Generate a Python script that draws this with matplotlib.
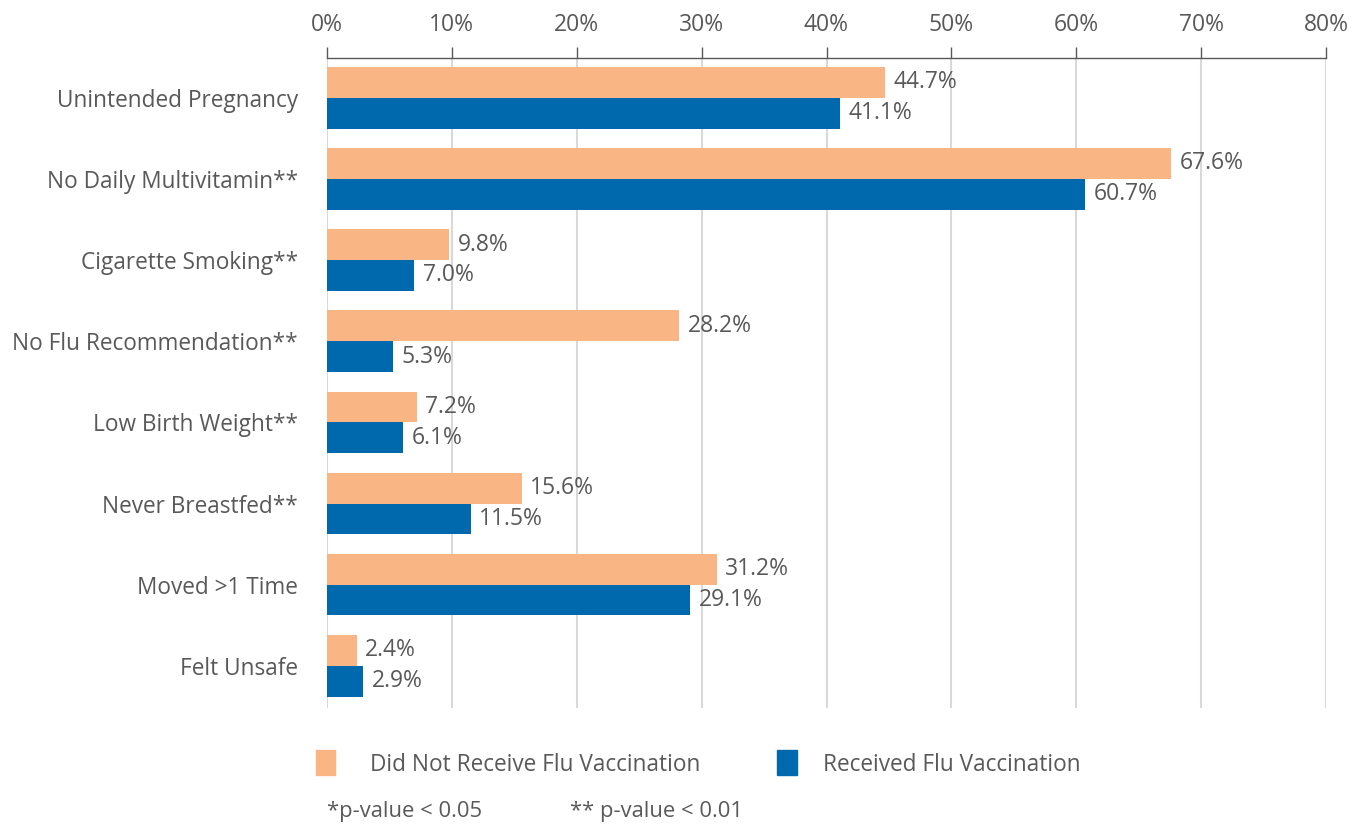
import matplotlib
matplotlib.use("Agg")
import matplotlib.pyplot as plt
from matplotlib.patches import Rectangle
from matplotlib.ticker import FuncFormatter

categories = ["Unintended Pregnancy", "No Daily Multivitamin**", "Cigarette Smoking**",
              "No Flu Recommendation**", "Low Birth Weight**", "Never Breastfed**",
              "Moved >1 Time", "Felt Unsafe"]
not_vaccinated = [44.7, 67.6, 9.8, 28.2, 7.2, 15.6, 31.2, 2.4]
vaccinated = [41.1, 60.7, 7.0, 5.3, 6.1, 11.5, 29.1, 2.9]
series_names = ["Did Not Receive Flu Vaccination", "Received Flu Vaccination"]
x_ticks = [0, 10, 20, 30, 40, 50, 60, 70, 80]

ORANGE = "#F9B584"
BLUE = "#0068AD"
GREY = "#595959"
plt.rcParams['font.family'] = ['Open Sans', 'DejaVu Sans']

fig = plt.figure(figsize=(13.65, 8.24), dpi=100)
ax = fig.add_axes([327/1365, 1-708/824, (1326-327)/1365, (708-58)/824])

h = 0.38
ys = list(range(len(categories)))
ax.barh([y - h/2 for y in ys], not_vaccinated, height=h, color=ORANGE, zorder=3)
ax.barh([y + h/2 for y in ys], vaccinated, height=h, color=BLUE, zorder=3)

for y, v in zip(ys, not_vaccinated):
    ax.annotate(f"{v:.1f}%", (v, y - h/2), xytext=(6, 0), textcoords="offset points",
                va="center", ha="left", fontsize=16.5, color=GREY)
for y, v in zip(ys, vaccinated):
    ax.annotate(f"{v:.1f}%", (v, y + h/2), xytext=(6, 0), textcoords="offset points",
                va="center", ha="left", fontsize=16.5, color=GREY)

ax.set_xlim(0, 80)
ax.set_ylim(len(categories) - 0.48, -0.49)
ax.set_xticks(x_ticks)
ax.xaxis.set_major_formatter(FuncFormatter(lambda v, p: f"{v:.0f}%"))
ax.xaxis.tick_top()
ax.tick_params(axis="x", colors=GREY, labelsize=16.5, length=8, width=1, pad=7, direction="out")
ax.set_yticks(ys)
ax.set_yticklabels(categories)
ax.tick_params(axis="y", length=0, labelsize=16.3, labelcolor=GREY, pad=21)
ax.grid(axis="x", color="#D9D9D9", linewidth=1.5, zorder=0)
for s in ["right", "bottom", "left"]:
    ax.spines[s].set_visible(False)
ax.spines["top"].set_color(GREY)
ax.spines["top"].set_linewidth(1)

# legend
fig.patches.append(Rectangle((316/1365, 1-775/824), 19/1365, 25/824, transform=fig.transFigure,
                             color=ORANGE))
fig.text(370/1365, 1-765/824, series_names[0], fontsize=16.3, color=GREY, va="center", ha="left")
fig.patches.append(Rectangle((777/1365, 1-775/824), 20/1365, 25/824, transform=fig.transFigure,
                             color=BLUE))
fig.text(823/1365, 1-765/824, series_names[1], fontsize=16.3, color=GREY, va="center", ha="left")

fig.text(327/1365, 1-812/824, "*p-value < 0.05", fontsize=15.8, color=GREY, va="center", ha="left")
fig.text(570/1365, 1-812/824, "** p-value < 0.01", fontsize=15.8, color=GREY, va="center", ha="left")

fig.savefig("out.png", dpi=100)
